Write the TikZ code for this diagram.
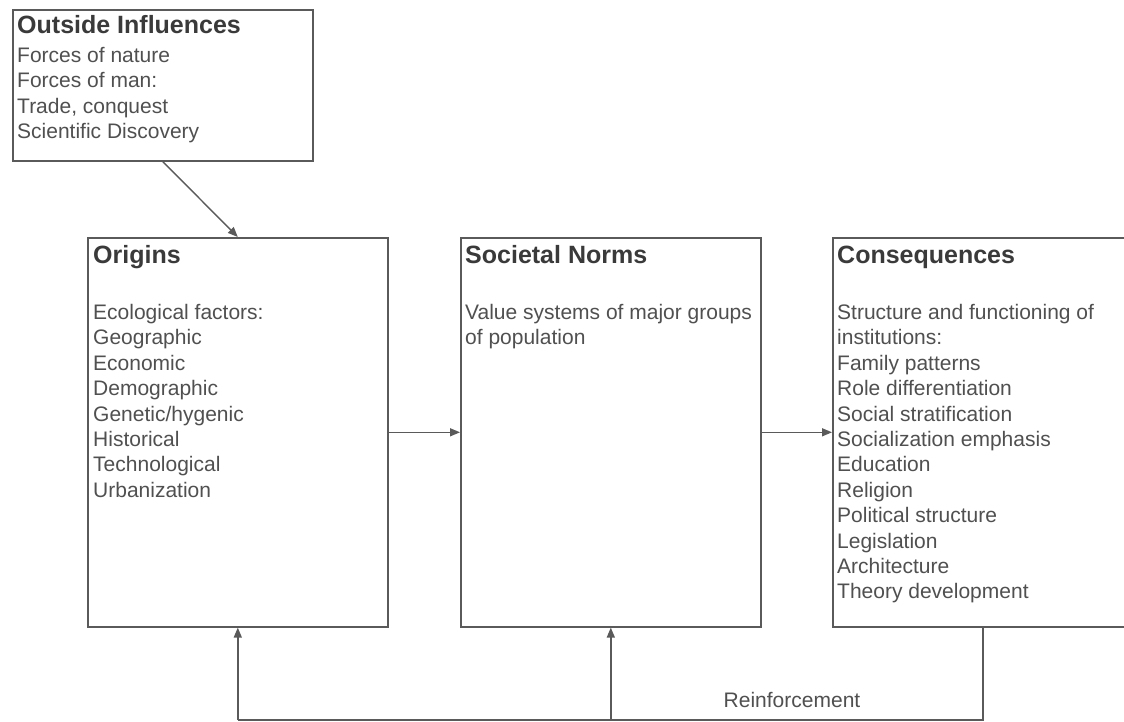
\documentclass[tikz,border=0pt]{standalone}
\usepackage{fontspec}
\setmainfont{Liberation Sans}
\usetikzlibrary{arrows.meta}
\definecolor{edgegray}{HTML}{5A5A5A}
\definecolor{headgray}{HTML}{3A3A3A}
\definecolor{bodygray}{HTML}{505050}
\tikzset{
  panel/.style={draw=edgegray, line width=1.6pt, rectangle, inner sep=0pt,
                minimum width=300pt, anchor=north west},
  head/.style={anchor=base west, inner sep=0pt, text=headgray,
               font=\fontsize{25}{30}\selectfont\bfseries},
  body/.style={anchor=base west, inner sep=0pt, text=bodygray,
               font=\fontsize{21}{25}\selectfont},
  link/.style={draw=edgegray, line width=1.4pt,
               -{Triangle[length=10pt, width=8pt]}},
  plainlink/.style={draw=edgegray, line width=1.4pt}
}
\begin{document}
\begin{tikzpicture}[x=1pt, y=-1pt]
  \useasboundingbox (0,0) rectangle (1124,722);
  \clip (0,0) rectangle (1124,722);
  \fill[white] (0,0) rectangle (1124,722);

  % the four boxes
  \node[panel, minimum height=151pt] (out) at (12,9) {};
  \node[panel, minimum height=389pt] (orig) at (87,237) {};
  \node[panel, minimum height=389pt] (soc) at (460,237) {};
  \node[panel, minimum height=389pt] (cons) at (832,237) {};

  % Outside Influences
  \node[head] (out-t) at (17,34) {Outside Influences};
  \foreach \txt [count=\i] in {Forces of nature, Forces of man:, {Trade, conquest}, Scientific Discovery}
    \node[body] (out-\i) at (17,{62.5+25.3*(\i-1)}) {\txt};

  % Origins
  \node[head] (orig-t) at (93,263) {Origins};
  \foreach \txt [count=\i] in {Ecological factors:, Geographic, Economic, Demographic,
      Genetic/hygenic, Historical, Technological, Urbanization}
    \node[body] (orig-\i) at (93,{319.5+25.4*(\i-1)}) {\txt};

  % Societal Norms
  \node[head] (soc-t) at (465,263) {Societal Norms};
  \foreach \txt [count=\i] in {Value systems of major groups, of population}
    \node[body] (soc-\i) at (465,{319.5+25.4*(\i-1)}) {\txt};

  % Consequences
  \node[head] (cons-t) at (837,263) {Consequences};
  \foreach \txt [count=\i] in {Structure and functioning of, institutions:, Family patterns,
      Role differentiation, Social stratification, Socialization emphasis, Education,
      Religion, Political structure, Legislation, Architecture, Theory development}
    \node[body] (cons-\i) at (837,{319.5+25.4*(\i-1)}) {\txt};

  % forward flow
  \draw[link] (out.south) -- (orig.north);
  \draw[link] (orig.east) -- (soc.west);
  \draw[link] (soc.east) -- (cons.west);

  % reinforcement loop
  \coordinate (loop) at (0,720);
  \draw[plainlink] (cons.south) |- (orig.south |- loop);
  \draw[link] (orig.south |- loop) -- (orig.south);
  \draw[link] (soc.south |- loop) -- (soc.south);
  \node[body, anchor=center] (reinf) at (792,700) {Reinforcement};
\end{tikzpicture}
\end{document}
